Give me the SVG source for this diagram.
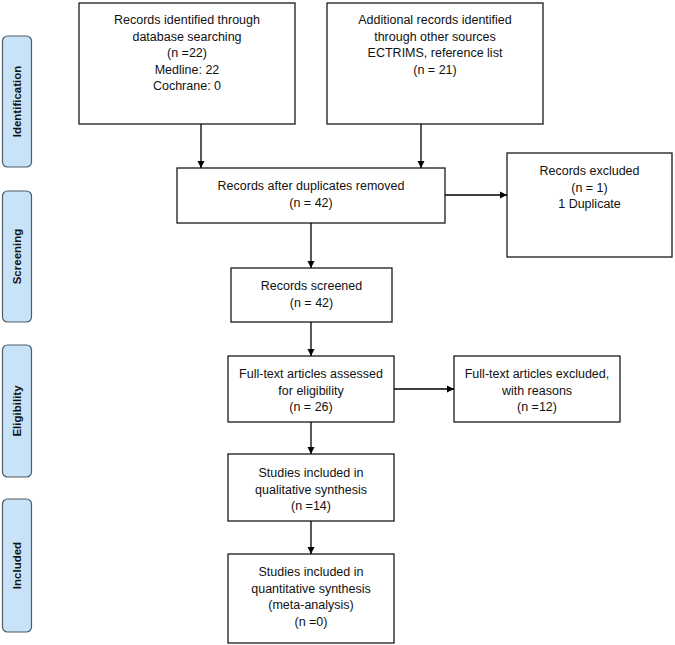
<svg xmlns="http://www.w3.org/2000/svg" width="675" height="645" viewBox="0 0 675 645">
<style>
.box{fill:#fff;stroke:#1a1a1a;stroke-width:1.3}
.side{fill:#c8e3f8;stroke:#4d5c68;stroke-width:1.2}
.t{font-family:"Liberation Sans",Arial,sans-serif;font-size:12.5px;fill:#111;text-anchor:middle}
.s{font-family:"Liberation Sans",Arial,sans-serif;font-size:11.5px;font-weight:bold;fill:#111;text-anchor:middle}
.c{stroke:#000;stroke-width:1.3;fill:none;marker-end:url(#ah)}
</style>
<defs>
<marker id="ah" markerWidth="8" markerHeight="8" refX="7" refY="4" orient="auto" markerUnits="userSpaceOnUse">
<path d="M0,0.5 L7,4 L0,7.5 Z" fill="#000"/>
</marker>
</defs>
<rect width="675" height="645" fill="#fff"/>
<g id="side-identification"><rect class="side" x="2.5" y="36" width="29" height="131" rx="5"/><text class="s" transform="translate(21,101.5) rotate(-90)">Identification</text></g>
<g id="side-screening"><rect class="side" x="2.5" y="191" width="29" height="131" rx="5"/><text class="s" transform="translate(21,256.5) rotate(-90)">Screening</text></g>
<g id="side-eligibility"><rect class="side" x="2.5" y="345" width="29" height="132" rx="5"/><text class="s" transform="translate(21,411) rotate(-90)">Eligibility</text></g>
<g id="side-included"><rect class="side" x="2.5" y="499" width="29" height="133" rx="5"/><text class="s" transform="translate(21,565.5) rotate(-90)">Included</text></g>

<g id="n-db"><rect class="box" x="79" y="3" width="216" height="121"/>
<text class="t" x="187" y="24">Records identified through</text>
<text class="t" x="187" y="40.5">database searching</text>
<text class="t" x="187" y="57">(n =22)</text>
<text class="t" x="187" y="73.5">Medline: 22</text>
<text class="t" x="187" y="90">Cochrane: 0</text></g>

<g id="n-other"><rect class="box" x="327" y="3" width="216" height="121"/>
<text class="t" x="435" y="24">Additional records identified</text>
<text class="t" x="435" y="40.5">through other sources</text>
<text class="t" x="435" y="57">ECTRIMS, reference list</text>
<text class="t" x="435" y="73.5">(n = 21)</text></g>

<g id="n-dup"><rect class="box" x="177" y="168" width="268" height="55"/>
<text class="t" x="311" y="190">Records after duplicates removed</text>
<text class="t" x="311" y="206.5">(n = 42)</text></g>

<g id="n-excl"><rect class="box" x="507" y="153" width="165" height="104"/>
<text class="t" x="589.5" y="175">Records excluded</text>
<text class="t" x="589.5" y="191.5">(n = 1)</text>
<text class="t" x="589.5" y="208">1 Duplicate</text></g>

<g id="n-screen"><rect class="box" x="231" y="268" width="161" height="54"/>
<text class="t" x="311.5" y="290">Records screened</text>
<text class="t" x="311.5" y="306.5">(n = 42)</text></g>

<g id="n-full"><rect class="box" x="228" y="356" width="166" height="66"/>
<text class="t" x="311" y="378">Full-text articles assessed</text>
<text class="t" x="311" y="394.5">for eligibility</text>
<text class="t" x="311" y="411">(n = 26)</text></g>

<g id="n-fullexcl"><rect class="box" x="454" y="356" width="166" height="66"/>
<text class="t" x="537" y="378">Full-text articles excluded,</text>
<text class="t" x="537" y="394.5">with reasons</text>
<text class="t" x="537" y="411">(n =12)</text></g>

<g id="n-qual"><rect class="box" x="228" y="454" width="166" height="67"/>
<text class="t" x="311" y="477">Studies included in</text>
<text class="t" x="311" y="493.5">qualitative synthesis</text>
<text class="t" x="311" y="510">(n =14)</text></g>

<g id="n-quant"><rect class="box" x="228" y="554" width="166" height="89"/>
<text class="t" x="311" y="576">Studies included in</text>
<text class="t" x="311" y="592.5">quantitative synthesis</text>
<text class="t" x="311" y="609">(meta-analysis)</text>
<text class="t" x="311" y="625.5">(n =0)</text></g>

<g id="connectors">
<line class="c" x1="201" y1="124" x2="201" y2="168"/>
<line class="c" x1="421" y1="124" x2="421" y2="168"/>
<line class="c" x1="445" y1="195" x2="507" y2="195"/>
<line class="c" x1="311" y1="223" x2="311" y2="268"/>
<line class="c" x1="311" y1="322" x2="311" y2="356"/>
<line class="c" x1="394" y1="389" x2="454" y2="389"/>
<line class="c" x1="311" y1="422" x2="311" y2="454"/>
<line class="c" x1="311" y1="521" x2="311" y2="554"/>
</g>
</svg>
